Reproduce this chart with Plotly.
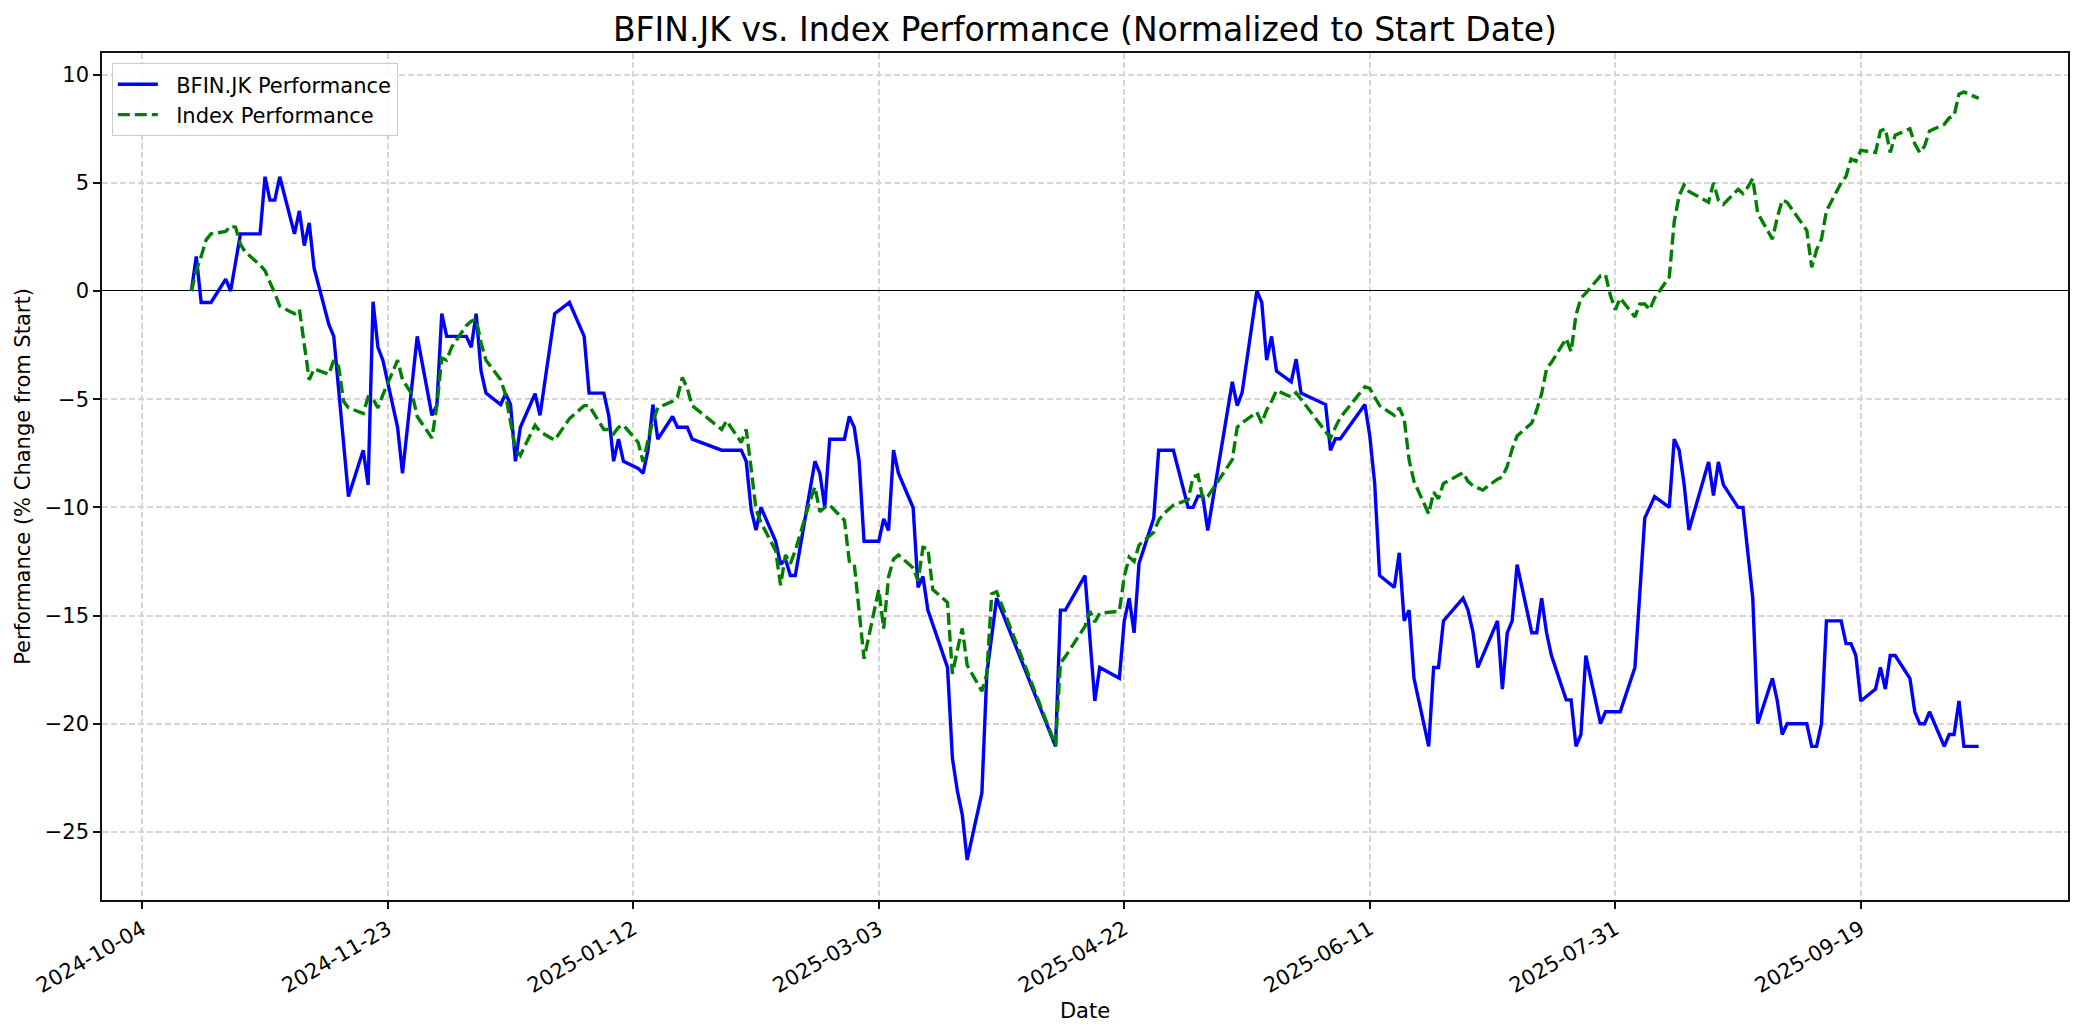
import plotly.graph_objects as go

# ---- BFIN.JK performance (% change from start) ----
bfin_dates = [
    "2024-10-14", "2024-10-15", "2024-10-16", "2024-10-18", "2024-10-21", "2024-10-22", "2024-10-24", "2024-10-25",
    "2024-10-28", "2024-10-29", "2024-10-30", "2024-10-31", "2024-11-01", "2024-11-04", "2024-11-05", "2024-11-06",
    "2024-11-07", "2024-11-08", "2024-11-11", "2024-11-12", "2024-11-14", "2024-11-15", "2024-11-18", "2024-11-19",
    "2024-11-20", "2024-11-21", "2024-11-22", "2024-11-25", "2024-11-26", "2024-11-29", "2024-12-02", "2024-12-03",
    "2024-12-04", "2024-12-05", "2024-12-06", "2024-12-09", "2024-12-10", "2024-12-11", "2024-12-12", "2024-12-13",
    "2024-12-16", "2024-12-17", "2024-12-18", "2024-12-19", "2024-12-20", "2024-12-23", "2024-12-24", "2024-12-27",
    "2024-12-30", "2025-01-02", "2025-01-03", "2025-01-06", "2025-01-07", "2025-01-08", "2025-01-09", "2025-01-10",
    "2025-01-13", "2025-01-14", "2025-01-15", "2025-01-16", "2025-01-17", "2025-01-20", "2025-01-21", "2025-01-22",
    "2025-01-23", "2025-01-24", "2025-01-30", "2025-01-31", "2025-02-03", "2025-02-04", "2025-02-05", "2025-02-06",
    "2025-02-07", "2025-02-10", "2025-02-11", "2025-02-12", "2025-02-13", "2025-02-14", "2025-02-18", "2025-02-19",
    "2025-02-20", "2025-02-21", "2025-02-24", "2025-02-25", "2025-02-26", "2025-02-27", "2025-02-28", "2025-03-03",
    "2025-03-04", "2025-03-05", "2025-03-06", "2025-03-07", "2025-03-10", "2025-03-11", "2025-03-12", "2025-03-13",
    "2025-03-17", "2025-03-18", "2025-03-19", "2025-03-20", "2025-03-21", "2025-03-24", "2025-03-25", "2025-03-27",
    "2025-04-08", "2025-04-09", "2025-04-10", "2025-04-14", "2025-04-16", "2025-04-17", "2025-04-21", "2025-04-22",
    "2025-04-23", "2025-04-24", "2025-04-25", "2025-04-28", "2025-04-29", "2025-04-30", "2025-05-02", "2025-05-05",
    "2025-05-06", "2025-05-07", "2025-05-08", "2025-05-09", "2025-05-14", "2025-05-15", "2025-05-16", "2025-05-19",
    "2025-05-20", "2025-05-21", "2025-05-22", "2025-05-23", "2025-05-26", "2025-05-27", "2025-05-28", "2025-06-02",
    "2025-06-03", "2025-06-04", "2025-06-05", "2025-06-10", "2025-06-11", "2025-06-12", "2025-06-13", "2025-06-16",
    "2025-06-17", "2025-06-18", "2025-06-19", "2025-06-20", "2025-06-23", "2025-06-24", "2025-06-25", "2025-06-26",
    "2025-06-30", "2025-07-01", "2025-07-02", "2025-07-03", "2025-07-07", "2025-07-08", "2025-07-09", "2025-07-10",
    "2025-07-11", "2025-07-14", "2025-07-15", "2025-07-16", "2025-07-17", "2025-07-18", "2025-07-21", "2025-07-22",
    "2025-07-23", "2025-07-24", "2025-07-25", "2025-07-28", "2025-07-29", "2025-07-30", "2025-07-31", "2025-08-01",
    "2025-08-04", "2025-08-05", "2025-08-06", "2025-08-07", "2025-08-08", "2025-08-11", "2025-08-12", "2025-08-13",
    "2025-08-14", "2025-08-15", "2025-08-19", "2025-08-20", "2025-08-21", "2025-08-22", "2025-08-25", "2025-08-26",
    "2025-08-28", "2025-08-29", "2025-09-01", "2025-09-02", "2025-09-03", "2025-09-04", "2025-09-08", "2025-09-09",
    "2025-09-10", "2025-09-11", "2025-09-12", "2025-09-15", "2025-09-16", "2025-09-17", "2025-09-18", "2025-09-19",
    "2025-09-22", "2025-09-23", "2025-09-24", "2025-09-25", "2025-09-26", "2025-09-29", "2025-09-30", "2025-10-01",
    "2025-10-02", "2025-10-03", "2025-10-06", "2025-10-07", "2025-10-08", "2025-10-09", "2025-10-10", "2025-10-13",
]
bfin_values = [
    0.0, 1.6, -0.53, -0.53, 0.55, 0.0, 2.64, 2.64,
    2.64, 5.28, 4.2, 4.2, 5.28, 2.64, 3.7, 2.1,
    3.15, 1.05, -1.55, -2.1, -7.2, -9.5, -7.36, -8.96,
    -0.5, -2.6, -3.2, -6.3, -8.43, -2.1, -5.75, -5.28,
    -1.05, -2.1, -2.1, -2.1, -2.6, -1.05, -3.7, -4.72,
    -5.25, -4.75, -5.25, -7.87, -6.3, -4.75, -5.75, -1.05,
    -0.53, -2.1, -4.72, -4.72, -5.75, -7.87, -6.85, -7.87,
    -8.2, -8.43, -7.36, -5.25, -6.85, -5.8, -6.3, -6.3,
    -6.3, -6.85, -7.36, -7.36, -7.36, -7.87, -10.1, -11.05,
    -10.0, -11.57, -12.64, -12.4, -13.15, -13.15, -7.87, -8.43,
    -10.0, -6.85, -6.85, -5.8, -6.3, -7.87, -11.57, -11.57,
    -10.53, -11.07, -7.36, -8.42, -10.02, -13.7, -13.2, -14.75,
    -17.4, -21.6, -23.1, -24.2, -26.3, -23.2, -17.7, -14.2,
    -21.05, -14.75, -14.75, -13.16, -18.95, -17.4, -17.9, -15.25,
    -14.2, -15.8, -12.6, -10.5, -7.36, -7.36, -7.36, -10.0,
    -10.0, -9.48, -9.48, -11.07, -4.2, -5.3, -4.7, 0.0,
    -0.53, -3.2, -2.1, -3.7, -4.2, -3.15, -4.72, -5.25,
    -7.36, -6.83, -6.83, -5.25, -6.7, -8.9, -13.15, -13.7,
    -12.1, -15.25, -14.75, -17.9, -21.05, -17.4, -17.4, -15.25,
    -14.2, -14.75, -15.75, -17.4, -15.25, -18.4, -15.8, -15.25,
    -12.65, -15.8, -15.8, -14.2, -15.8, -16.85, -18.9, -18.9,
    -21.05, -20.5, -16.85, -20.0, -19.45, -19.45, -19.45, -19.45,
    -17.4, -13.7, -10.5, -10.0, -9.5, -10.0, -6.85, -7.35,
    -8.9, -11.05, -7.9, -9.45, -7.9, -8.95, -10.0, -10.0,
    -14.2, -20.0, -17.9, -18.95, -20.5, -20.0, -20.0, -21.05,
    -21.05, -20.0, -15.25, -15.25, -16.3, -16.3, -16.85, -18.95,
    -18.4, -17.4, -18.4, -16.85, -16.85, -17.9, -19.45, -20.0,
    -20.0, -19.45, -21.05, -20.5, -20.5, -18.95, -21.05, -21.05,
]

# ---- Index performance (% change from start) ----
index_dates = [
    "2024-10-14", "2024-10-15", "2024-10-16", "2024-10-17", "2024-10-18", "2024-10-21", "2024-10-22", "2024-10-23",
    "2024-10-24", "2024-10-25", "2024-10-28", "2024-10-29", "2024-10-30", "2024-10-31", "2024-11-01", "2024-11-04",
    "2024-11-05", "2024-11-06", "2024-11-07", "2024-11-08", "2024-11-11", "2024-11-12", "2024-11-13", "2024-11-14",
    "2024-11-15", "2024-11-18", "2024-11-19", "2024-11-20", "2024-11-21", "2024-11-22", "2024-11-25", "2024-11-26",
    "2024-11-28", "2024-11-29", "2024-12-02", "2024-12-03", "2024-12-04", "2024-12-05", "2024-12-06", "2024-12-09",
    "2024-12-10", "2024-12-11", "2024-12-12", "2024-12-13", "2024-12-16", "2024-12-17", "2024-12-18", "2024-12-19",
    "2024-12-20", "2024-12-23", "2024-12-24", "2024-12-27", "2024-12-30", "2025-01-02", "2025-01-03", "2025-01-06",
    "2025-01-07", "2025-01-08", "2025-01-09", "2025-01-10", "2025-01-13", "2025-01-14", "2025-01-15", "2025-01-16",
    "2025-01-17", "2025-01-20", "2025-01-21", "2025-01-22", "2025-01-23", "2025-01-24", "2025-01-30", "2025-01-31",
    "2025-02-03", "2025-02-04", "2025-02-05", "2025-02-06", "2025-02-07", "2025-02-10", "2025-02-11", "2025-02-12",
    "2025-02-13", "2025-02-14", "2025-02-17", "2025-02-18", "2025-02-19", "2025-02-20", "2025-02-21", "2025-02-24",
    "2025-02-25", "2025-02-26", "2025-02-27", "2025-02-28", "2025-03-03", "2025-03-04", "2025-03-05", "2025-03-06",
    "2025-03-07", "2025-03-10", "2025-03-11", "2025-03-12", "2025-03-13", "2025-03-14", "2025-03-17", "2025-03-18",
    "2025-03-19", "2025-03-20", "2025-03-21", "2025-03-24", "2025-03-25", "2025-03-26", "2025-03-27", "2025-04-08",
    "2025-04-09", "2025-04-10", "2025-04-14", "2025-04-15", "2025-04-16", "2025-04-17", "2025-04-21", "2025-04-22",
    "2025-04-23", "2025-04-24", "2025-04-25", "2025-04-28", "2025-04-29", "2025-04-30", "2025-05-02", "2025-05-05",
    "2025-05-06", "2025-05-07", "2025-05-08", "2025-05-09", "2025-05-14", "2025-05-15", "2025-05-16", "2025-05-19",
    "2025-05-20", "2025-05-21", "2025-05-22", "2025-05-23", "2025-05-26", "2025-05-27", "2025-05-28", "2025-06-02",
    "2025-06-03", "2025-06-04", "2025-06-05", "2025-06-10", "2025-06-11", "2025-06-12", "2025-06-13", "2025-06-16",
    "2025-06-17", "2025-06-18", "2025-06-19", "2025-06-20", "2025-06-23", "2025-06-24", "2025-06-25", "2025-06-26",
    "2025-06-30", "2025-07-01", "2025-07-02", "2025-07-03", "2025-07-04", "2025-07-07", "2025-07-08", "2025-07-09",
    "2025-07-10", "2025-07-11", "2025-07-14", "2025-07-15", "2025-07-16", "2025-07-17", "2025-07-18", "2025-07-21",
    "2025-07-22", "2025-07-23", "2025-07-24", "2025-07-25", "2025-07-28", "2025-07-29", "2025-07-30", "2025-07-31",
    "2025-08-01", "2025-08-04", "2025-08-05", "2025-08-06", "2025-08-07", "2025-08-08", "2025-08-11", "2025-08-12",
    "2025-08-13", "2025-08-14", "2025-08-15", "2025-08-19", "2025-08-20", "2025-08-21", "2025-08-22", "2025-08-25",
    "2025-08-26", "2025-08-27", "2025-08-28", "2025-08-29", "2025-09-01", "2025-09-02", "2025-09-03", "2025-09-04",
    "2025-09-08", "2025-09-09", "2025-09-10", "2025-09-11", "2025-09-12", "2025-09-15", "2025-09-16", "2025-09-17",
    "2025-09-18", "2025-09-19", "2025-09-22", "2025-09-23", "2025-09-24", "2025-09-25", "2025-09-26", "2025-09-29",
    "2025-09-30", "2025-10-01", "2025-10-02", "2025-10-03", "2025-10-06", "2025-10-07", "2025-10-08", "2025-10-09",
    "2025-10-10", "2025-10-13",
]
index_values = [
    0.0, 0.94, 1.6, 2.36, 2.64, 2.75, 3.0, 2.95,
    2.15, 1.8, 1.2, 0.94, 0.4, -0.1, -0.7, -1.05,
    -0.85, -2.4, -4.1, -3.6, -3.85, -3.2, -3.5, -5.1,
    -5.4, -5.66, -4.9, -5.0, -5.4, -4.8, -3.2, -4.1,
    -4.8, -5.8, -6.8, -5.3, -3.1, -3.2, -2.6, -1.6,
    -1.4, -1.3, -2.4, -3.2, -4.1, -4.8, -6.0, -7.3,
    -7.6, -6.2, -6.5, -6.9, -5.9, -5.3, -5.3, -6.4,
    -6.4, -6.6, -6.3, -6.2, -7.0, -7.9, -6.9, -6.0,
    -5.4, -5.1, -4.9, -4.0, -4.5, -5.3, -6.4, -6.0,
    -7.0, -6.4, -8.2, -10.1, -10.7, -12.0, -13.6, -12.2,
    -12.6, -12.0, -9.7, -9.06, -10.2, -10.0, -9.9, -10.6,
    -12.5, -12.6, -14.8, -17.0, -13.8, -15.6, -13.2, -12.4,
    -12.2, -12.8, -13.4, -11.85, -11.9, -13.8, -14.4, -17.7,
    -16.6, -15.6, -17.3, -18.5, -17.7, -14.0, -13.9, -21.0,
    -17.2, -16.9, -15.5, -14.8, -15.3, -14.9, -14.8, -13.2,
    -12.3, -12.5, -11.75, -11.15, -10.6, -10.3, -9.9, -9.65,
    -8.6, -8.5, -9.6, -9.5, -7.8, -6.3, -6.1, -5.6,
    -6.1, -5.5, -5.1, -4.6, -4.9, -4.7, -5.0, -6.5,
    -6.8, -6.3, -5.85, -4.43, -4.5, -4.9, -5.3, -5.75,
    -5.4, -5.9, -7.8, -8.8, -10.3, -9.3, -9.6, -8.9,
    -8.4, -8.8, -9.0, -9.1, -9.2, -8.7, -8.6, -8.1,
    -7.3, -6.7, -6.1, -5.5, -4.74, -3.6, -3.3, -2.2,
    -2.8, -1.1, -0.33, -0.1, 0.7, 0.76, -0.2, -0.87,
    -0.33, -1.2, -0.6, -0.6, -0.87, -0.33, 0.65, 3.2,
    4.4, 4.9, 4.6, 4.1, 5.0, 4.2, 4.0, 4.7,
    4.5, 4.8, 5.2, 3.6, 2.4, 3.4, 4.2, 4.1,
    2.8, 1.1, 1.9, 2.4, 3.7, 5.0, 5.3, 6.1,
    6.0, 6.5, 6.4, 7.4, 7.5, 6.4, 7.2, 7.5,
    6.8, 6.4, 6.7, 7.4, 7.7, 8.0, 8.1, 9.1,
    9.2, 8.9,
]

x_tick_dates = ["2024-10-04", "2024-11-23", "2025-01-12", "2025-03-03",
                "2025-04-22", "2025-06-11", "2025-07-31", "2025-09-19"]
y_tick_values = [-25, -20, -15, -10, -5, 0, 5, 10]

FONT = "DejaVu Sans"
PAGE_OFFSET = 8  # the page body margin shifts the figure in the screenshot
NBSP = "\u00a0"

fig = go.Figure()
fig.add_trace(go.Scatter(
    x=bfin_dates, y=bfin_values, mode="lines", name=NBSP * 2 + "BFIN.JK Performance",
    line=dict(color="#0000ff", width=3.4),
))
fig.add_trace(go.Scatter(
    x=index_dates, y=index_values, mode="lines", name=NBSP * 2 + "Index Performance",
    line=dict(color="#008000", width=3.4, dash="12px,5px"),
))

axis_common = dict(
    showline=True, linecolor="#111111", linewidth=1.6, mirror=True,
    ticks="outside", ticklen=7, tickwidth=1.6, tickcolor="#111111",
    showgrid=True, gridcolor="#d6d6d6", gridwidth=1.5, griddash="6px,3px",
    tickfont=dict(family=FONT, size=21, color="black"),
)

fig.update_layout(
    width=2084, height=1035,
    paper_bgcolor="white", plot_bgcolor="white",
    margin=dict(l=102 - PAGE_OFFSET, r=16 + PAGE_OFFSET, t=53 - PAGE_OFFSET,
                b=135 + PAGE_OFFSET, autoexpand=False),
    font=dict(family=FONT, size=21, color="black"),
    title=dict(
        text="BFIN.JK vs. Index Performance (Normalized to Start Date)",
        x=0.5, xref="paper", xanchor="center",
        y=1 - (29 - PAGE_OFFSET) / 1035, yref="container", yanchor="middle",
        font=dict(family=FONT, size=33, color="black"),
    ),
    legend=dict(
        x=0.005, y=0.988, xanchor="left", yanchor="top",
        bgcolor="rgba(255,255,255,0.85)", bordercolor="#cccccc", borderwidth=1,
        font=dict(family=FONT, size=21, color="black"),
        tracegroupgap=0, itemwidth=40,
    ),
    showlegend=True,
)

fig.update_xaxes(
    **axis_common,
    range=["2024-09-25 19:12", "2025-10-31 04:48"],
    tickmode="array", tickvals=x_tick_dates, ticktext=x_tick_dates,
    tickangle=-30,
    title=dict(text="Date", font=dict(family=FONT, size=21, color="black"), standoff=6),
    zeroline=False,
)
fig.update_yaxes(
    **axis_common,
    range=[-28.15, 11.0],
    tickmode="array", tickvals=y_tick_values,
    ticktext=[("\u2212" + str(abs(v))) if v < 0 else str(v) for v in y_tick_values],
    title=dict(text="Performance (% Change from Start)", font=dict(family=FONT, size=21, color="black"), standoff=8),
    zeroline=True, zerolinecolor="black", zerolinewidth=1.4,
)

fig.write_html("out.html")
